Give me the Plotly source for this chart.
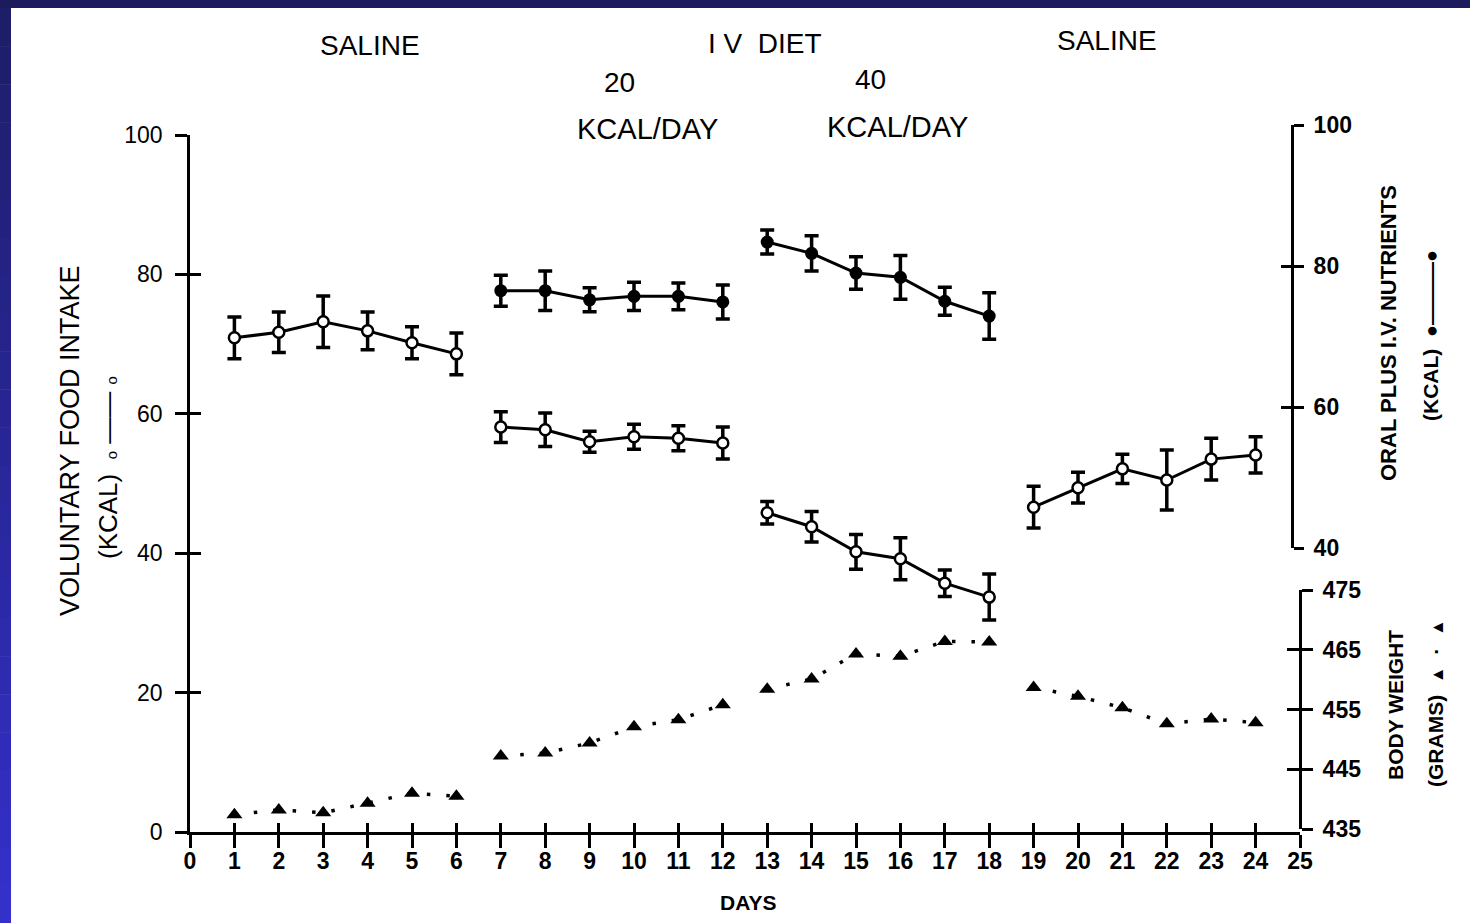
import plotly.graph_objects as go

# ---------------- data ----------------
days = list(range(1, 25))
phases = [(1, 6), (7, 12), (13, 18), (19, 24)]

# Voluntary food intake (kcal), open circles, left axis
food_intake = [70.9, 71.7, 73.2, 71.9, 70.2, 68.6,
               58.1, 57.7, 56.0, 56.7, 56.5, 55.8,
               45.8, 43.8, 40.2, 39.2, 35.7, 33.7,
               46.6, 49.4, 52.1, 50.5, 53.5, 54.1]
food_err = [3.0, 2.9, 3.7, 2.7, 2.3, 3.0,
            2.2, 2.4, 1.5, 1.8, 1.8, 2.3,
            1.6, 2.2, 2.5, 3.0, 1.9, 3.3,
            3.0, 2.2, 2.1, 4.3, 3.0, 2.6]

# Oral plus IV nutrients (kcal), filled circles, right upper axis (days 7-18)
total_days = list(range(7, 19))
total_kcal = [76.5, 76.5, 75.2, 75.7, 75.7, 74.9,
              83.4, 81.8, 79.0, 78.4, 75.0, 72.9]
total_err = [2.2, 2.8, 1.7, 2.0, 1.9, 2.4,
             1.7, 2.5, 2.3, 3.1, 2.0, 3.3]

# Body weight (grams), triangles, right lower axis
body_weight = [437.4, 438.2, 437.7, 439.3, 441.0, 440.5,
               447.2, 447.7, 449.4, 452.1, 453.3, 455.8,
               458.4, 460.1, 464.3, 463.9, 466.4, 466.3,
               458.7, 457.2, 455.3, 452.6, 453.4, 452.8]

x_ticks = list(range(0, 26))
left_ticks = [0, 20, 40, 60, 80, 100]
right_ticks = [40, 60, 80, 100]
bw_ticks = [435, 445, 455, 465, 475]

# ---------------- geometry helpers ----------------
W, H = 1470, 923
L, R, T, B = 190, 170, 125, 91
PW, PH = W - L - R, H - T - B


def px(x):
    return (x - L) / PW


def py(y):
    return (H - B - y) / PH


FONT = "Liberation Sans, Arial, sans-serif"

fig = go.Figure()

# ---------------- traces ----------------
for a, b in phases:
    idx = [i for i, d in enumerate(days) if a <= d <= b]
    fig.add_trace(go.Scatter(
        x=[days[i] for i in idx], y=[food_intake[i] for i in idx],
        mode="lines+markers", yaxis="y",
        line=dict(color="black", width=3),
        marker=dict(symbol="circle", size=11, color="white",
                    line=dict(color="black", width=2.5)),
        error_y=dict(type="data", array=[food_err[i] for i in idx],
                     color="black", thickness=3.5, width=7),
        showlegend=False, hoverinfo="x+y"))

    tidx = [i for i, d in enumerate(total_days) if a <= d <= b]
    if tidx:
        fig.add_trace(go.Scatter(
            x=[total_days[i] for i in tidx], y=[total_kcal[i] for i in tidx],
            mode="lines+markers", yaxis="y2",
            line=dict(color="black", width=3),
            marker=dict(symbol="circle", size=13, color="black"),
            error_y=dict(type="data", array=[total_err[i] for i in tidx],
                         color="black", thickness=3.5, width=7),
            showlegend=False, hoverinfo="x+y"))

    fig.add_trace(go.Scatter(
        x=[days[i] for i in idx], y=[body_weight[i] for i in idx],
        mode="lines+markers", yaxis="y3",
        line=dict(color="black", width=3.5, dash="3.5px,16px"),
        marker=dict(symbol="triangle-up", size=14, color="black"),
        showlegend=False, hoverinfo="x+y"))

# empty traces so the overlay axes (second half of the crossing ticks) are drawn
for xa, ya in [("x2", "y4"), ("x", "y5"), ("x", "y6")]:
    fig.add_trace(go.Scatter(x=[None], y=[None], xaxis=xa, yaxis=ya,
                             mode="markers", showlegend=False,
                             hoverinfo="skip"))

# ---------------- axes ----------------
tick_font = dict(family=FONT, size=23, color="black")
bold_font = dict(family=FONT, size=23, color="black", weight="bold")

xcommon = dict(range=[0, 25], domain=[0, 1], tickvals=x_ticks,
               showgrid=False, zeroline=False, tickcolor="black", tickwidth=3)
ycommon = dict(showgrid=False, zeroline=False, tickcolor="black", tickwidth=3)

dom_y = [0, py(135)]
dom_y2 = [py(548), py(125)]
dom_y3 = [py(829), py(590)]

fig.update_layout(
    width=W, height=H,
    margin=dict(l=L, r=R, t=T, b=B, pad=0),
    paper_bgcolor="white", plot_bgcolor="rgba(0,0,0,0)",
    showlegend=False,
    xaxis=dict(**xcommon, anchor="y", ticks="outside", ticklen=13,
               showline=True, linecolor="black", linewidth=3,
               ticktext=[str(v) for v in x_ticks], tickfont=bold_font,
               ticklabelstandoff=-7),
    xaxis2=dict(**xcommon, overlaying="x", anchor="y", ticks="inside",
                ticklen=9, showticklabels=False, showline=False),
    yaxis=dict(**ycommon, domain=dom_y, range=[0, 100], anchor="x",
               tickvals=left_ticks, ticks="outside", ticklen=12,
               showline=True, linecolor="black", linewidth=2.5,
               tickfont=tick_font, ticklabelstandoff=8),
    yaxis4=dict(**ycommon, domain=dom_y, range=[0, 100], overlaying="y",
                anchor="x", tickvals=left_ticks, ticks="inside", ticklen=11,
                showticklabels=False, showline=False),
    yaxis2=dict(**ycommon, domain=dom_y2, range=[40, 100], anchor="free",
                position=px(1292), side="right", tickvals=right_ticks,
                ticks="outside", ticklen=10, showline=True, linecolor="black",
                linewidth=3, tickfont=bold_font, ticklabelstandoff=5),
    yaxis5=dict(**ycommon, domain=dom_y2, range=[40, 100], overlaying="y2",
                anchor="free", position=px(1292), side="right",
                tickvals=right_ticks, ticks="inside", ticklen=11,
                showticklabels=False, showline=False),
    yaxis3=dict(**ycommon, domain=dom_y3, range=[435, 475], anchor="free",
                position=1.0, side="right", tickvals=bw_ticks,
                ticks="outside", ticklen=11, showline=True, linecolor="black",
                linewidth=3, tickfont=bold_font, ticklabelstandoff=5),
    yaxis6=dict(**ycommon, domain=dom_y3, range=[435, 475], overlaying="y3",
                anchor="free", position=1.0, side="right",
                tickvals=bw_ticks, ticks="inside", ticklen=13,
                showticklabels=False, showline=False),
)

# ---------------- blue frame ----------------
shapes = []
shapes.append(dict(type="rect", xref="paper", yref="paper",
                   x0=px(0), x1=px(W), y0=py(8), y1=py(0),
                   fillcolor="#1b1b5e", line=dict(width=0), layer="below"))
n = 24
top_c = (0x1d, 0x1d, 0x66)
bot_c = (0x35, 0x30, 0xcc)
for k in range(n):
    y0 = 8 + (H - 8) * k / n
    y1 = 8 + (H - 8) * (k + 1) / n
    t = (k + 0.5) / n
    c = tuple(int(round(top_c[j] + (bot_c[j] - top_c[j]) * t)) for j in range(3))
    shapes.append(dict(type="rect", xref="paper", yref="paper",
                       x0=px(0), x1=px(11), y0=py(y1 + 0.5), y1=py(y0),
                       fillcolor="rgb(%d,%d,%d)" % c, line=dict(width=0),
                       layer="below"))
fig.update_layout(shapes=shapes)

# ---------------- annotations ----------------
def ann(text, x, y, size=27, angle=0, bold=False):
    f = dict(family=FONT, size=size, color="black")
    if bold:
        f["weight"] = "bold"
    fig.add_annotation(text=text, x=px(x), y=py(y), xref="paper", yref="paper",
                       showarrow=False, xanchor="center", yanchor="middle",
                       textangle=angle, font=f)


ann("SALINE", 370, 45, size=28)
ann("I V  DIET", 765, 43, size=28)
ann("20", 619, 82, size=28)
ann("KCAL/DAY", 647, 129, size=29)
ann("40", 870, 80, size=28)
ann("KCAL/DAY", 897, 127, size=29)
ann("SALINE", 1107, 41, size=28)
ann("DAYS", 748, 902, size=21, bold=True)

ann("VOLUNTARY FOOD INTAKE", 70, 441, size=27, angle=-90)
ann("(KCAL)  <span style='font-size:15px'>o</span> —— "
    "<span style='font-size:15px'>o</span>", 108, 468, size=26, angle=-90)

ann("ORAL PLUS I.V. NUTRIENTS", 1388, 333, size=22, angle=-90, bold=True)
ann("(KCAL)  <span style='font-size:20px'>●</span>———"
    "<span style='font-size:20px'>●</span>", 1430, 336, size=21, angle=-90, bold=True)

ann("BODY WEIGHT", 1395, 705, size=21, angle=-90, bold=True)
ann("(GRAMS)  <span style='font-size:17px'>▲</span>  ·  "
    "<span style='font-size:17px'>▲</span>", 1435, 703, size=21, angle=-90, bold=True)

fig.write_html("out.html")
